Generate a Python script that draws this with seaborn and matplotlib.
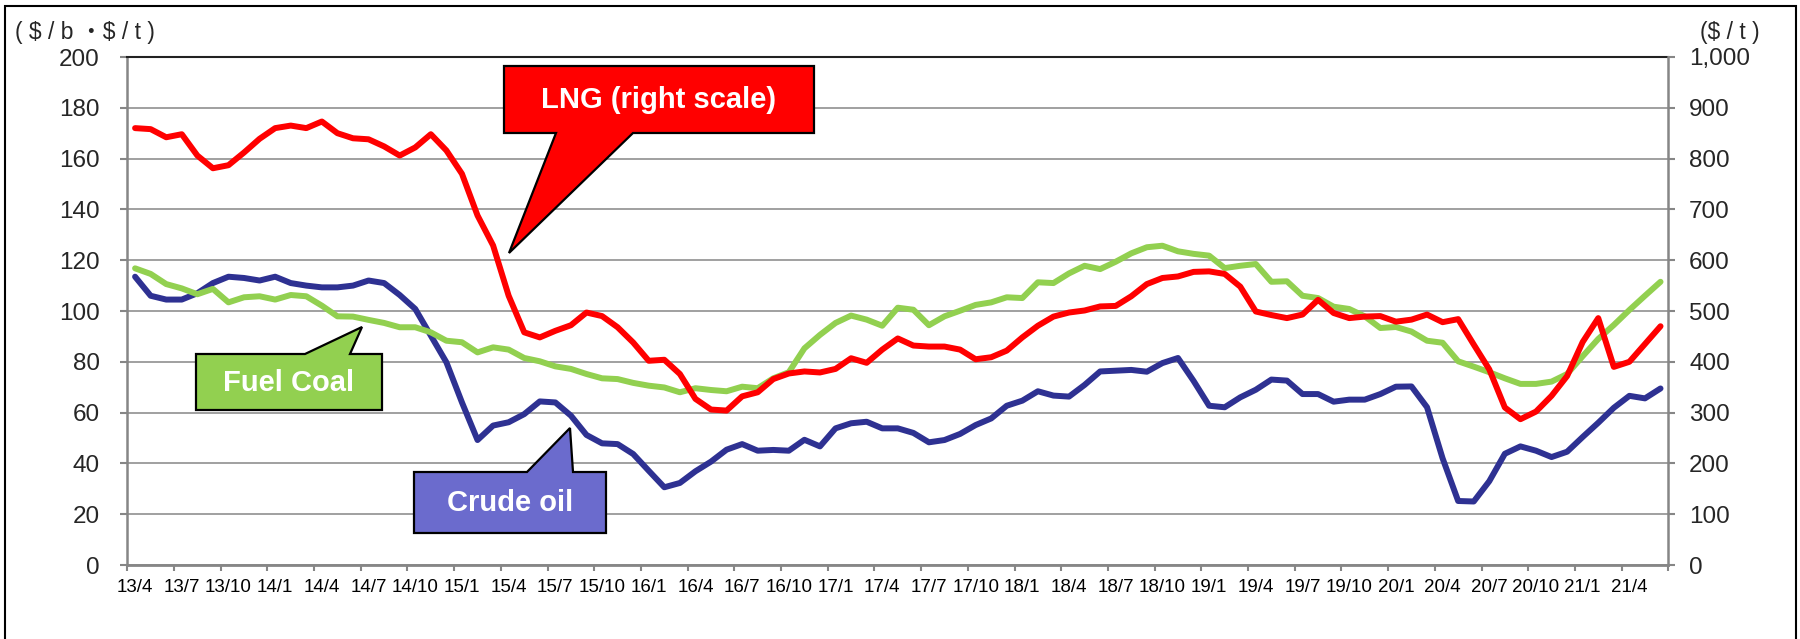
import numpy as np
import pandas as pd
import seaborn as sns
import matplotlib.pyplot as plt
from matplotlib.patches import Polygon, Rectangle
from matplotlib.ticker import FuncFormatter

# monthly prices, 2013/4 .. 2021/6
crude = [113.5, 106.0, 104.5, 104.5, 107.0, 111.0, 113.5, 113.0, 112.0, 113.5,
         111.0, 110.0, 109.3, 109.3, 110.0, 112.0, 111.0, 106.3, 100.8, 90.3,
         79.8, 64.0, 49.2, 54.9, 56.2, 59.4, 64.4, 64.0, 58.8, 51.2,
         47.9, 47.6, 43.7, 37.1, 30.6, 32.3, 36.9, 40.7, 45.4, 47.6,
         45.0, 45.3, 45.0, 49.3, 46.7, 53.8, 55.8, 56.4, 53.8, 53.8,
         52.0, 48.3, 49.2, 51.6, 55.1, 57.7, 62.7, 64.7, 68.4, 66.7,
         66.3, 70.9, 76.2, 76.5, 76.8, 76.1, 79.5, 81.5, 72.5, 62.7,
         62.1, 66.0, 69.0, 73.0, 72.6, 67.3, 67.3, 64.3, 65.1, 65.1,
         67.3, 70.2, 70.3, 62.1, 42.0, 25.2, 25.0, 33.0, 43.8, 46.7,
         45.0, 42.5, 44.6, 50.4, 56.0, 61.9, 66.6, 65.6, 69.5]

coal = [116.8, 114.6, 110.6, 108.9, 106.6, 108.7, 103.4, 105.4, 105.8, 104.5,
        106.3, 105.8, 102.1, 97.9, 97.8, 96.5, 95.3, 93.6, 93.6, 91.6,
        88.3, 87.7, 83.7, 85.7, 84.8, 81.5, 80.2, 78.2, 77.2, 75.2,
        73.5, 73.2, 71.7, 70.6, 69.9, 68.0, 69.6, 68.9, 68.4, 70.2,
        69.6, 73.5, 75.9, 85.3, 90.6, 95.3, 98.2, 96.6, 94.2, 101.3,
        100.5, 94.4, 97.9, 100.1, 102.4, 103.4, 105.4, 105.1, 111.3, 111.0,
        114.8, 117.8, 116.5, 119.4, 122.7, 125.1, 125.7, 123.5, 122.5, 121.8,
        116.9, 117.8, 118.5, 111.5, 111.7, 106.0, 105.1, 101.7, 100.8, 97.9,
        93.3, 93.7, 91.9, 88.3, 87.5, 80.2, 78.1, 75.9, 73.5, 71.3,
        71.3, 72.2, 75.2, 82.2, 89.0, 94.5, 100.4, 106.0, 111.5]

lng = [860, 858, 842, 848, 806, 781, 787, 812, 839, 860,
       865, 860, 873, 850, 840, 838, 824, 806, 822, 848,
       816, 770, 688, 629, 530, 458, 448, 461, 472, 497,
       490, 468, 438, 402, 404, 376, 327, 306, 304, 332,
       340, 366, 377, 381, 379, 386, 407, 398, 424, 446,
       432, 430, 430, 424, 405, 409, 422, 448, 471, 489,
       497, 501, 509, 510, 529, 553, 565, 568, 577, 578,
       573, 548, 499, 492, 486, 493, 522, 496, 486, 489,
       490, 479, 483, 493, 478, 484, 434, 385, 310, 287,
       302, 333, 372, 439, 486, 390, 400, 435, 470]

months = []
yr, mo = 13, 4
for _ in range(len(crude)):
    months.append(f"{yr}/{mo}")
    mo += 1
    if mo > 12:
        yr, mo = yr + 1, 1

df = pd.DataFrame({"pos": np.arange(len(months)) + 0.5, "month": months,
                   "crude": crude, "coal": coal, "lng": lng})

sns.set_theme(style="white")
plt.rcParams['font.family'] = ['Liberation Sans', 'Noto Sans CJK JP', 'DejaVu Sans']

W, H = 1800, 639
fig = plt.figure(figsize=(W / 100, H / 100), dpi=100)
ax = fig.add_axes([127.3 / W, 1 - 565 / H, (1668.3 - 127.3) / W, (565 - 57) / H])
ax2 = ax.twinx()

lw = 4.3
sns.lineplot(data=df, x="pos", y="crude", ax=ax, color="#2E3192", lw=lw,
             solid_joinstyle="round")
sns.lineplot(data=df, x="pos", y="coal", ax=ax, color="#92D050", lw=lw,
             solid_joinstyle="round")
sns.lineplot(data=df, x="pos", y="lng", ax=ax2, color="#FF0000", lw=lw,
             solid_joinstyle="round")

grey = "#868686"
ax.set_xlim(0, len(months))
ax.set_ylim(0, 200)
ax2.set_ylim(0, 1000)
ax.set_yticks(range(0, 201, 20))
ax2.set_yticks(range(0, 1001, 100))
ax2.yaxis.set_major_formatter(FuncFormatter(lambda v, p: f"{int(v):,}"))

lab_idx = list(range(0, len(months), 3))
ax.set_xticks([df["pos"][i] for i in lab_idx])
ax.set_xticklabels([months[i] for i in lab_idx])
ax.set_xticks(range(0, len(months) + 1, 3), minor=True)
ax.tick_params(axis="x", which="major", length=0, pad=10, labelsize=13.5, colors="black")
ax.tick_params(axis="x", which="minor", length=4, width=1.5, color=grey, direction="out")
ax.tick_params(axis="y", length=5, width=1.5, color=grey, pad=15, labelsize=17.5,
               direction="out", left=True)
ax2.tick_params(axis="y", length=5, width=1.5, color=grey, pad=10, labelsize=17.5,
                direction="out", right=True)
ax.tick_params(axis="x", which="both", bottom=True)

ax.grid(axis="y", color=grey, lw=1.1)
ax.set_axisbelow(True)
ax.set_xlabel("")
ax.set_ylabel("")
ax2.set_ylabel("")

for a in (ax, ax2):
    for s in a.spines.values():
        s.set_visible(False)
ax.spines["left"].set_visible(True)
ax.spines["left"].set_color(grey)
ax.spines["left"].set_linewidth(1.8)
ax.spines["bottom"].set_visible(True)
ax.spines["bottom"].set_color(grey)
ax.spines["bottom"].set_linewidth(2.0)
ax.spines["top"].set_visible(True)
ax.spines["top"].set_color("#222222")
ax.spines["top"].set_linewidth(1.5)
ax2.spines["right"].set_visible(True)
ax2.spines["right"].set_color(grey)
ax2.spines["right"].set_linewidth(1.8)


def fpt(x, y):
    return (x / W, 1 - y / H)


def callout(pts, color, text, tx, ty):
    fig.add_artist(Polygon([fpt(x, y) for x, y in pts], closed=True,
                           transform=fig.transFigure, facecolor=color,
                           edgecolor="black", lw=1.6, zorder=10))
    fig.text(*fpt(tx, ty), text, color="white", fontsize=21, fontweight="bold",
             ha="center", va="center", zorder=11)


callout([(504, 66), (814, 66), (814, 133), (633, 133), (509, 253), (556, 133), (504, 133)],
        "#FF0000", "LNG (right scale)", 659, 100)
callout([(196, 354), (305, 354), (362, 327), (350, 354), (382, 354), (382, 410), (196, 410)],
        "#92D050", "Fuel Coal", 289, 383)
callout([(414, 472), (527, 472), (570, 428), (573, 472), (606, 472), (606, 533), (414, 533)],
        "#6B6BCD", "Crude oil", 510, 503)

fig.text(*fpt(15, 33), r"( \$ / b ・\$ / t )", fontsize=16.5, ha="left", va="center")
fig.text(*fpt(1700, 33), r"(\$ / t )", fontsize=16.5, ha="left", va="center")

fig.add_artist(Rectangle(fpt(5, 700), (1796 - 5) / W, (700 - 6) / H, fill=False,
                         edgecolor="black", lw=1.5, transform=fig.transFigure))

fig.savefig("out.png", dpi=100)
